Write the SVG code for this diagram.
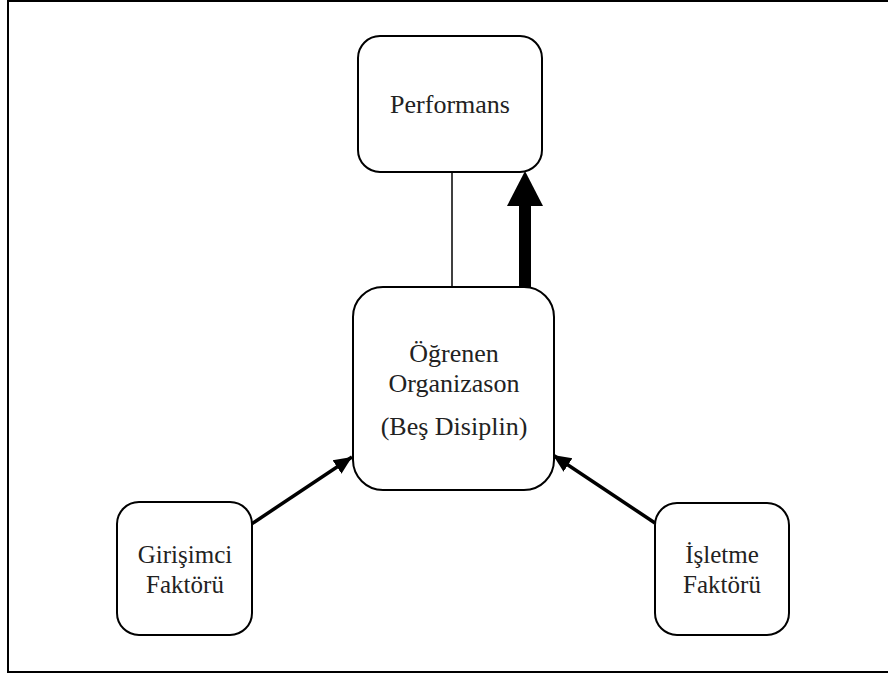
<svg xmlns="http://www.w3.org/2000/svg" width="888" height="674" viewBox="0 0 888 674">
<style>
.box{fill:#fff;stroke:#000;stroke-width:2}
.t{font-family:"Liberation Serif","Times New Roman",serif;font-size:26px;fill:#222;text-anchor:middle}
.s{font-size:25px}
.c{stroke:#000;fill:none}
</style>
<defs>
<marker id="ah" markerUnits="userSpaceOnUse" markerWidth="20" markerHeight="20" viewBox="0 0 20 20" refX="18" refY="10" orient="auto">
<path d="M0,2 L18,10 L0,18 Z" fill="#000"/>
</marker>
</defs>
<rect x="8" y="1" width="900" height="671" fill="#fff" stroke="#000" stroke-width="2"/>
<g id="connectors">
<line class="c" x1="452" y1="172" x2="452" y2="288" stroke-width="1.5"/>
<rect x="519" y="203" width="12" height="85" fill="#000"/>
<polygon points="507,206 543,206 525,171" fill="#000"/>
<line class="c" x1="250" y1="525" x2="352" y2="457" stroke-width="3.5" marker-end="url(#ah)"/>
<line class="c" x1="655" y1="523" x2="553" y2="455" stroke-width="3.5" marker-end="url(#ah)"/>
</g>
<g id="performans">
<rect class="box" x="358" y="36" width="184" height="136" rx="22"/>
<text class="t" x="450" y="113">Performans</text>
</g>
<g id="ogrenen">
<rect class="box" x="353" y="287" width="201" height="203" rx="30"/>
<text class="t" x="454" y="362">Öğrenen</text>
<text class="t" x="454" y="392">Organizason</text>
<text class="t" x="454" y="435">(Beş Disiplin)</text>
</g>
<g id="girisimci">
<rect class="box" x="117" y="502" width="135" height="133" rx="22"/>
<text class="t s" x="185" y="563">Girişimci</text>
<text class="t s" x="185" y="593">Faktörü</text>
</g>
<g id="isletme">
<rect class="box" x="655" y="503" width="134" height="132" rx="22"/>
<text class="t s" x="722" y="563">İşletme</text>
<text class="t s" x="722" y="593">Faktörü</text>
</g>
</svg>
